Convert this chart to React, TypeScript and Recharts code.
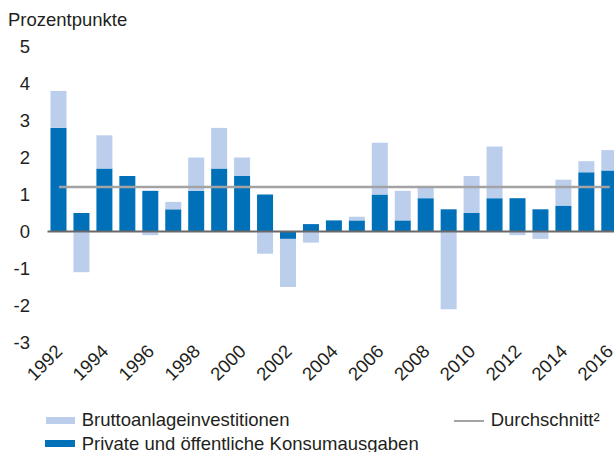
import React from "react";
import { ComposedChart, Bar, Line, XAxis, YAxis, ReferenceLine, Legend } from "recharts";

// Beiträge zum BIP-Wachstum in Prozentpunkten
const years = [
  "1992", "1993", "1994", "1995", "1996", "1997", "1998", "1999", "2000", "2001", "2002", "2003", "2004",
  "2005", "2006", "2007", "2008", "2009", "2010", "2011", "2012", "2013", "2014", "2015", "2016",
];
const konsum = [
  2.8, 0.5, 1.7, 1.5, 1.1, 0.6, 1.1, 1.7, 1.5, 1.0, -0.2, 0.2, 0.3, 0.3, 1.0, 0.3, 0.9, 0.6, 0.5, 0.9, 0.9,
  0.6, 0.7, 1.6, 1.65,
];
const investitionen = [
  1.0, -1.1, 0.9, 0, -0.1, 0.2, 0.9, 1.1, 0.5, -0.6, -1.3, -0.3, 0, 0.1, 1.4, 0.8, 0.3, -2.1, 1.0, 1.4, -0.1,
  -0.2, 0.7, 0.3, 0.55,
];
const durchschnitt = 1.2;
const yTicks = [-3, -2, -1, 0, 1, 2, 3, 4, 5];
const legendLabels = ["Bruttoanlageinvestitionen", "Private und öffentliche Konsumausgaben", "Durchschnitt²"];

const DARK = "#0070b9";
const LIGHT = "#bbcfec";
const AVG = "#a3a3a3";
const TEXT = "#231f20";
const FS = 18.5;

const data = years.map((year, i) => ({
  year,
  konsum: konsum[i],
  investitionen: investitionen[i],
  avg: durchschnitt,
}));

const YearTick = (props: any) => {
  const { x, y, payload } = props;
  return (
    <text
      x={x}
      y={y}
      dy="0.35em"
      textAnchor="end"
      fontSize={FS}
      fill={TEXT}
      transform={`rotate(-45 ${x} ${y})`}
    >
      {payload.value}
    </text>
  );
};

const txt: React.CSSProperties = {
  position: "absolute",
  fontSize: FS,
  lineHeight: "20px",
  color: TEXT,
  whiteSpace: "nowrap",
};

const LegendBox = () => (
  <div style={{ position: "relative", width: 614, height: 48 }}>
    <div style={{ position: "absolute", left: 46, top: 12.7, width: 29, height: 7, background: LIGHT }} />
    <div style={{ ...txt, left: 81.7, top: 6.3 }}>{legendLabels[0]}</div>
    <div style={{ position: "absolute", left: 45, top: 36, width: 30, height: 7, background: DARK }} />
    <div style={{ ...txt, left: 81.7, top: 29.6 }}>{legendLabels[1]}</div>
    <div style={{ position: "absolute", left: 454, top: 15.5, width: 30, height: 2.5, background: AVG }} />
    <div style={{ ...txt, left: 490.7, top: 6.3 }}>{legendLabels[2]}</div>
  </div>
);

export default function App() {
  return (
    <div
      style={{
        position: "fixed",
        left: 0,
        top: 0,
        width: 614,
        height: 452,
        overflow: "hidden",
        background: "#fff",
        fontFamily: '"Liberation Sans", Arial, sans-serif',
      }}
    >
      <div style={{ ...txt, left: 8, top: 10 }}>Prozentpunkte</div>
      <ComposedChart
        width={622}
        height={452}
        data={data}
        stackOffset="sign"
        margin={{ top: 46.5, right: 0.75, left: 0, bottom: 0 }}
      >
        <XAxis
          dataKey="year"
          interval={1}
          axisLine={false}
          tickLine={false}
          tickSize={0}
          tickMargin={5.5}
          height={61.5}
          tick={YearTick}
        />
        <YAxis
          domain={[-3, 5]}
          ticks={yTicks}
          axisLine={false}
          tickLine={false}
          tickSize={0}
          tickMargin={17.5}
          width={47.5}
          tick={{ fontSize: FS, fill: TEXT }}
        />
        <Bar dataKey="konsum" stackId="a" fill={DARK} barSize={16} isAnimationActive={false} />
        <Bar dataKey="investitionen" stackId="a" fill={LIGHT} barSize={16} isAnimationActive={false} />
        <ReferenceLine y={0} stroke="#6a6a6a" strokeWidth={2} />
        <Line
          dataKey="avg"
          stroke={AVG}
          strokeWidth={2.5}
          dot={false}
          activeDot={false}
          isAnimationActive={false}
        />
        <Legend
          verticalAlign="bottom"
          content={LegendBox}
          wrapperStyle={{ position: "absolute", left: 0, top: 404, bottom: "auto", width: 614, height: 48 }}
        />
      </ComposedChart>
    </div>
  );
}
